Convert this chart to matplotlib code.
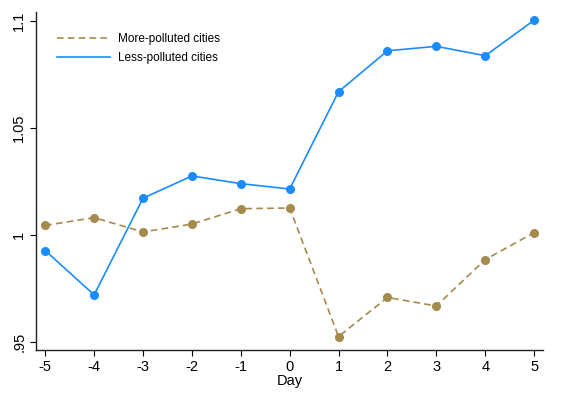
import matplotlib
matplotlib.use("Agg")
import matplotlib.pyplot as plt
from matplotlib.lines import Line2D

plt.rcParams['font.family'] = ['Liberation Sans', 'DejaVu Sans']

days = [-5, -4, -3, -2, -1, 0, 1, 2, 3, 4, 5]
more_polluted = [1.0044, 1.0080, 1.0013, 1.0050, 1.0122, 1.0125,
                 0.9524, 0.9707, 0.9667, 0.9884, 1.0010]
less_polluted = [0.9926, 0.9719, 1.0171, 1.0275, 1.0239, 1.0214,
                 1.0669, 1.0860, 1.0881, 1.0837, 1.1003]
yticks = [0.95, 1.0, 1.05, 1.1]
ytick_labels = [".95", "1", "1.05", "1.1"]

gold = '#a68a4b'
blue = '#1a8cff'

fig = plt.figure(figsize=(5.62, 3.96), dpi=100)
ax = fig.add_axes([0.064, 0.116, 0.902, 0.854])

ax.plot(days, more_polluted, color=gold, linestyle='--', dashes=(4, 2.5), lw=1.2,
        marker='o', ms=5.5)
ax.plot(days, less_polluted, color=blue, lw=1.2,
        marker='o', ms=5.5)

ax.set_xlim(-5.19, 5.18)
ax.set_ylim(0.9461, 1.1042)
ax.set_xticks(days)
ax.set_xticklabels([str(d) for d in days], fontsize=10.5)
ax.set_yticks(yticks)
ax.set_yticklabels(ytick_labels, fontsize=10.5, rotation=90, va='center')
ax.set_xlabel('Day', fontsize=10.5, labelpad=0)

for s in ['top', 'right']:
    ax.spines[s].set_visible(False)
for s in ['left', 'bottom']:
    ax.spines[s].set_linewidth(1.0)
    ax.spines[s].set_color('#222222')
ax.tick_params(direction='out', length=4, width=0.8, pad=3)

# legend without the markers, like the original
handles = [Line2D([], [], color=gold, linestyle='--', dashes=(4, 2.5), lw=1.2),
           Line2D([], [], color=blue, lw=1.2)]
ax.legend(handles, ['More-polluted cities', 'Less-polluted cities'],
          loc='upper left', frameon=False, fontsize=8.5,
          bbox_to_anchor=(0.02, 0.97), handlelength=4.5, handletextpad=0.7,
          labelspacing=0.65)

fig.savefig('out.png', dpi=100)
